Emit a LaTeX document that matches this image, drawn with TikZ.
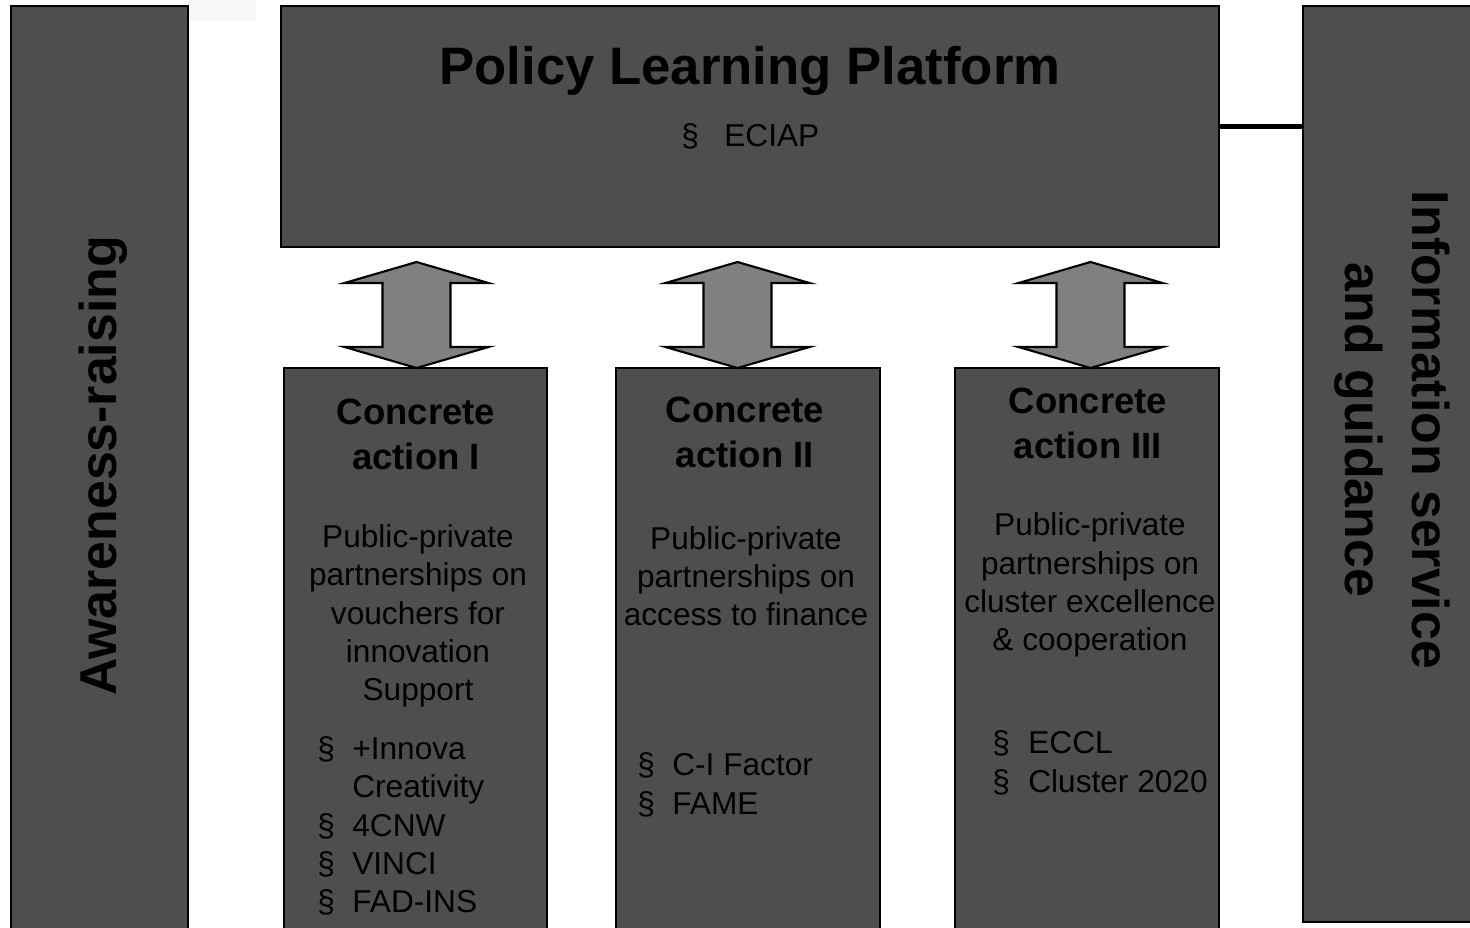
\documentclass[tikz,border=0pt]{standalone}
\usepackage{fontspec}
\setmainfont{Liberation Sans}
\usetikzlibrary{fit}
\definecolor{boxfill}{HTML}{4E4E4E}
\definecolor{arrowfill}{HTML}{808080}
\begin{document}
\begin{tikzpicture}[x=0.02cm,y=-0.02cm,
  panel/.style={draw=black, line width=1pt, fill=boxfill, inner sep=0pt},
  bigarrow/.style={draw=black, line width=1.2pt, fill=arrowfill, line join=miter},
  txt/.style={inner sep=0pt, text=black},
  titlefont/.style={font=\bfseries\fontsize{30}{36}\selectfont},
  headfont/.style={font=\bfseries\fontsize{20.8}{25.5}\selectfont, align=center},
  bodyfont/.style={font=\fontsize{18}{21.8}\selectfont, align=center},
  bulletfont/.style={font=\fontsize{18}{21.8}\selectfont, align=left},
  sidefont/.style={font=\bfseries\fontsize{29.5}{38}\selectfont, align=center}]
\useasboundingbox (0,0) rectangle (1470,927);
\clip (0,0) rectangle (1470,927);
\fill[black!3] (188,0) rectangle (256,21);
% panels
\node[panel, fit={(11,6) (188,950)}] (aw) {};
\node[panel, fit={(281,6) (1219,247)}] (plp) {};
\node[panel, fit={(1303,6) (1490,922)}] (info) {};
\node[panel, fit={(284,368) (547,950)}] (c1) {};
\node[panel, fit={(616,368) (880,950)}] (c2) {};
\node[panel, fit={(955,368) (1219,950)}] (c3) {};
% connector
\draw[line width=2.3pt] (plp.east) -- (plp.east -| info.west);
% double arrows
\foreach \cx in {416.5,737.5,1090.5}{
  \draw[bigarrow] (\cx,368) -- (\cx-72,347) -- (\cx-34,347) -- (\cx-34,283)
     -- (\cx-72,283) -- (\cx,262) -- (\cx+72,283) -- (\cx+34,283)
     -- (\cx+34,347) -- (\cx+72,347) -- cycle;
}
% texts
\node[txt, titlefont, anchor=base] (t) at (750,84) {Policy Learning Platform};
\node[txt, bulletfont, anchor=base west] (ec) at (681,146) {\makebox[0.86cm][l]{§}ECIAP};
\node[txt, sidefont, rotate=90] (awt) at (103,466) {Awareness-raising};
\node[txt, sidefont, rotate=-90] (inf) at (1392,430) {Information service\\and guidance};
\node[txt, headfont] (h1) at (416,434.5) {Concrete\\action I};
\node[txt, headfont] (h2) at (745,432.5) {Concrete\\action II};
\node[txt, headfont] (h3) at (1088,423.5) {Concrete\\action III};
\node[txt, bodyfont] (b1) at (418,616) {Public-private\\partnerships on\\vouchers for\\innovation\\Support};
\node[txt, bodyfont] (b2) at (746,576) {Public-private\\partnerships on\\access to finance};
\node[txt, bodyfont] (b3) at (1090,585) {Public-private\\partnerships on\\cluster excellence\\\& cooperation};
\node[txt, bulletfont, anchor=west] (l1) at (317,826) {\makebox[0.7cm][l]{§}+Innova\\\hspace*{0.7cm}Creativity\\\makebox[0.7cm][l]{§}4CNW\\\makebox[0.7cm][l]{§}VINCI\\\makebox[0.7cm][l]{§}FAD-INS};
\node[txt, bulletfont, anchor=west] (l2) at (637,785) {\makebox[0.7cm][l]{§}C-I Factor\\\makebox[0.7cm][l]{§}FAME};
\node[txt, bulletfont, anchor=west] (l3) at (992,763) {\makebox[0.72cm][l]{§}ECCL\\\makebox[0.72cm][l]{§}Cluster 2020};
\end{tikzpicture}
\end{document}
